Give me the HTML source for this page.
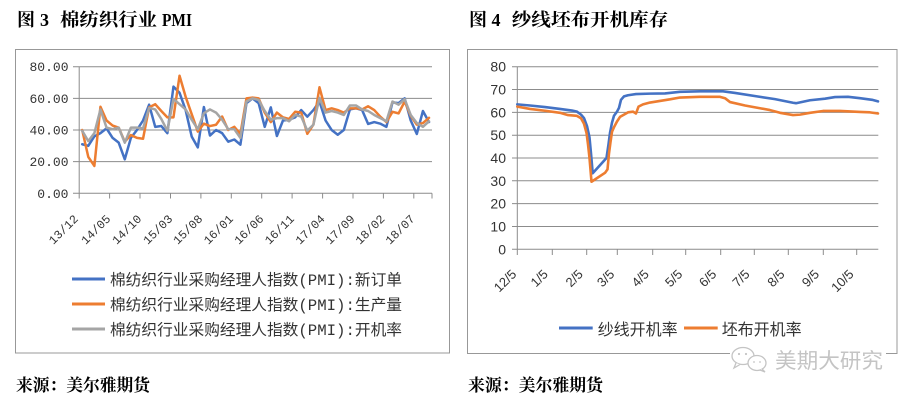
<!DOCTYPE html>
<html><head><meta charset="utf-8"><style>
html,body{margin:0;padding:0;background:#fff;}
svg{display:block;}
</style></head><body>
<svg width="913" height="400" viewBox="0 0 913 400" xmlns="http://www.w3.org/2000/svg">
<rect width="913" height="400" fill="#fff"/>
<!-- Titles -->
<g font-family="'Liberation Serif','Noto Serif CJK SC',serif" font-weight="bold" fill="#000">
<text x="17" y="26" font-size="18">图</text>
<text x="40" y="26" font-size="18">3</text>
<text x="60" y="26" font-size="18" textLength="97" lengthAdjust="spacingAndGlyphs">棉纺织行业</text>
<text x="162" y="26" font-size="18" textLength="30" lengthAdjust="spacingAndGlyphs">PMI</text>
<text x="469" y="26" font-size="18">图</text>
<text x="491.5" y="26" font-size="18">4</text>
<text x="511.7" y="26" font-size="18" textLength="156.6" lengthAdjust="spacingAndGlyphs">纱线坯布开机库存</text>
<text x="16" y="391" font-size="17" textLength="134" lengthAdjust="spacingAndGlyphs">来源：美尔雅期货</text>
<text x="468" y="391" font-size="17" textLength="135" lengthAdjust="spacingAndGlyphs">来源：美尔雅期货</text>
</g>

<!-- LEFT CHART -->
<rect x="15.5" y="49.5" width="434" height="303.5" fill="none" stroke="#989898" stroke-width="1"/>
<g stroke="#8c8c8c" stroke-width="1" fill="none">
<line x1="73" y1="66.7" x2="432" y2="66.7"/>
<line x1="73" y1="98.35" x2="432" y2="98.35"/>
<line x1="73" y1="130" x2="432" y2="130"/>
<line x1="73" y1="161.65" x2="432" y2="161.65"/>
<line x1="73" y1="193.3" x2="432" y2="193.3"/>
<line x1="79.2" y1="66.7" x2="79.2" y2="198.5"/>
<line x1="109.6" y1="193.3" x2="109.6" y2="198.5"/>
<line x1="140" y1="193.3" x2="140" y2="198.5"/>
<line x1="170.5" y1="193.3" x2="170.5" y2="198.5"/>
<line x1="200.9" y1="193.3" x2="200.9" y2="198.5"/>
<line x1="231.3" y1="193.3" x2="231.3" y2="198.5"/>
<line x1="261.7" y1="193.3" x2="261.7" y2="198.5"/>
<line x1="292.1" y1="193.3" x2="292.1" y2="198.5"/>
<line x1="322.6" y1="193.3" x2="322.6" y2="198.5"/>
<line x1="353" y1="193.3" x2="353" y2="198.5"/>
<line x1="383.4" y1="193.3" x2="383.4" y2="198.5"/>
<line x1="413.8" y1="193.3" x2="413.8" y2="198.5"/>
<line x1="432" y1="193.3" x2="432" y2="198.5"/>
</g>
<g font-family="'Liberation Mono',monospace" font-size="13" fill="#333" text-anchor="end">
<text x="68.5" y="71.2">80.00</text>
<text x="68.5" y="102.85">60.00</text>
<text x="68.5" y="134.5">40.00</text>
<text x="68.5" y="166.15">20.00</text>
<text x="68.5" y="197.8">0.00</text>
</g>
<g font-family="'Liberation Mono',monospace" font-size="12" fill="#333" text-anchor="end">
<text transform="translate(78.8,219.5) rotate(-45)">13/12</text>
<text transform="translate(111.2,219.5) rotate(-45)">14/05</text>
<text transform="translate(142.2,219.5) rotate(-45)">14/10</text>
<text transform="translate(173.2,219.5) rotate(-45)">15/03</text>
<text transform="translate(203.2,219.5) rotate(-45)">15/08</text>
<text transform="translate(233.8,219.5) rotate(-45)">16/01</text>
<text transform="translate(264.3,219.5) rotate(-45)">16/06</text>
<text transform="translate(294.8,219.5) rotate(-45)">16/11</text>
<text transform="translate(325.5,219.5) rotate(-45)">17/04</text>
<text transform="translate(355.5,219.5) rotate(-45)">17/09</text>
<text transform="translate(385.5,219.5) rotate(-45)">18/02</text>
<text transform="translate(415.5,219.5) rotate(-45)">18/07</text>
</g>
<g transform="translate(82.2,193.3) scale(6.084,-1.5825)" fill="none" stroke-width="2.5" stroke-linejoin="round" stroke-linecap="round">
<polyline vector-effect="non-scaling-stroke" stroke="#4472C4" points="0,31 1,30 2,36 3,38 4,41 5,35 6,32 7,21.5 8,35 9,40 10,46 11,56 12,42 13,42.5 14,38 15,67.4 16,63.5 17,52.6 18,35.8 19,29 20,54.5 21,36.5 22,40 23,38 24,32.6 25,34 26,30.7 27,57 28,60 29,57 30,42 31,54.3 32,36.2 33,46 34,46.5 35,48 36,52.6 37,48.4 38,52.6 39,58 40,46 41,40 42,37 43,40 44,53 45,53.7 46,52.6 47,43.8 48,45 49,44 50,42 51,57.5 52,57 53,60 54,46 55,37.5 56,52 57,45"/>
<polyline vector-effect="non-scaling-stroke" stroke="#ED7D31" points="0,40 1,23 2,17.3 3,54.7 4,46 5,42.8 6,41.5 7,32.6 8,36.8 9,35 10,34.5 11,54.3 12,56.3 13,52 14,48 15,48 16,74.3 17,61 18,50 19,39 20,44 21,42.5 22,43.3 23,48.5 24,40 25,42 26,37.5 27,60 28,60.5 29,60 30,51 31,45 32,51 33,48 34,47 35,51.5 36,51 37,37.6 38,43.4 39,67 40,52.6 41,53.7 42,52.6 43,51 44,53.7 45,53.7 46,53 47,55 48,52.6 49,48.4 50,45 51,51.5 52,50.5 53,58 54,49 55,43.4 56,44.4 57,47.7"/>
<polyline vector-effect="non-scaling-stroke" stroke="#A5A5A5" points="0,39.5 1,33 2,38 3,53 4,41.5 5,40.5 6,41.5 7,32 8,41.5 9,41.5 10,41 11,54 12,53 13,47 14,39.5 15,59.6 16,56.3 17,53 18,46.5 19,40.5 20,50.6 21,53 22,51 23,46.5 24,40.5 25,40.5 26,35 27,58 28,60 29,59 30,52 31,46.5 32,47.5 33,47.5 34,45.5 35,49.5 36,48.5 37,39.6 38,43.3 39,60.3 40,51 41,52 42,51 43,49.5 44,55.5 45,55.5 46,53 47,52 48,49.5 49,47.5 50,45.5 51,58 52,56 53,59.5 54,49.5 55,44.4 56,42 57,45.5"/>
</g>
<!-- left legend -->
<g stroke-width="3">
<line x1="72" y1="279" x2="105" y2="279" stroke="#4472C4"/>
<line x1="72" y1="304" x2="105" y2="304" stroke="#ED7D31"/>
<line x1="72" y1="329" x2="105" y2="329" stroke="#A5A5A5"/>
</g>
<g font-family="'Liberation Mono','Noto Sans CJK SC',sans-serif" font-size="15.5" fill="#333">
<text x="110" y="285" textLength="292" lengthAdjust="spacingAndGlyphs">棉纺织行业采购经理人指数(PMI):新订单</text>
<text x="110" y="310" textLength="292" lengthAdjust="spacingAndGlyphs">棉纺织行业采购经理人指数(PMI):生产量</text>
<text x="110" y="335" textLength="292" lengthAdjust="spacingAndGlyphs">棉纺织行业采购经理人指数(PMI):开机率</text>
</g>

<!-- RIGHT CHART -->
<rect x="467.5" y="49.5" width="429.5" height="304" fill="none" stroke="#989898" stroke-width="1"/>
<g stroke="#8c8c8c" stroke-width="1" fill="none">
<line x1="512" y1="66.7" x2="878.3" y2="66.7"/>
<line x1="512" y1="89.5" x2="878.3" y2="89.5"/>
<line x1="512" y1="112.35" x2="878.3" y2="112.35"/>
<line x1="512" y1="135.2" x2="878.3" y2="135.2"/>
<line x1="512" y1="158" x2="878.3" y2="158"/>
<line x1="512" y1="180.8" x2="878.3" y2="180.8"/>
<line x1="512" y1="203.65" x2="878.3" y2="203.65"/>
<line x1="512" y1="226.5" x2="878.3" y2="226.5"/>
<line x1="512" y1="249.3" x2="878.3" y2="249.3"/>
<line x1="517.3" y1="66.7" x2="517.3" y2="255"/>
<line x1="552.3" y1="249.3" x2="552.3" y2="255"/>
<line x1="586.7" y1="249.3" x2="586.7" y2="255"/>
<line x1="617.3" y1="249.3" x2="617.3" y2="255"/>
<line x1="652.7" y1="249.3" x2="652.7" y2="255"/>
<line x1="685.7" y1="249.3" x2="685.7" y2="255"/>
<line x1="720.7" y1="249.3" x2="720.7" y2="255"/>
<line x1="754.3" y1="249.3" x2="754.3" y2="255"/>
<line x1="788.3" y1="249.3" x2="788.3" y2="255"/>
<line x1="823.3" y1="249.3" x2="823.3" y2="255"/>
<line x1="856.7" y1="249.3" x2="856.7" y2="255"/>
</g>
<g font-family="'Liberation Sans',sans-serif" font-size="14" fill="#333" text-anchor="end">
<text x="506" y="71.7">80</text>
<text x="506" y="94.5">70</text>
<text x="506" y="117.35">60</text>
<text x="506" y="140.2">50</text>
<text x="506" y="163">40</text>
<text x="506" y="185.8">30</text>
<text x="506" y="208.65">20</text>
<text x="506" y="231.5">10</text>
<text x="506" y="254.3">0</text>
</g>
<g font-family="'Liberation Sans',sans-serif" font-size="13" fill="#333" text-anchor="end">
<text transform="translate(517.2,275) rotate(-45)">12/5</text>
<text transform="translate(548.8,275) rotate(-45)">1/5</text>
<text transform="translate(583.8,275) rotate(-45)">2/5</text>
<text transform="translate(615.2,275) rotate(-45)">3/5</text>
<text transform="translate(649.8,275) rotate(-45)">4/5</text>
<text transform="translate(683.2,275) rotate(-45)">5/5</text>
<text transform="translate(717.2,275) rotate(-45)">6/5</text>
<text transform="translate(750.5,275) rotate(-45)">7/5</text>
<text transform="translate(785.5,275) rotate(-45)">8/5</text>
<text transform="translate(820,275) rotate(-45)">9/5</text>
<text transform="translate(854.5,275) rotate(-45)">10/5</text>
</g>
<g transform="translate(0,249.3) scale(1,-2.2825)" fill="none" stroke-width="2.6" stroke-linejoin="round" stroke-linecap="round">
<polyline vector-effect="non-scaling-stroke" stroke="#4472C4" points="517.3,63.5 530,63 545,62.3 560,61.5 572,60.8 577,60.3 581,59 584,57.5 587,54 589.5,49 591,42 592.7,33.3 606.5,40 608.5,46 610,51 612,55.5 614,58.5 617,60.3 619,62 621,65.5 624,67 628,67.5 636,68 650,68.2 665,68.3 672,68.6 680,69 700,69.2 723,69.2 735,68.5 757,67 775,65.8 793,64.2 796,64 810,65.3 825,66 835,66.7 848,66.8 860,66.2 872,65.5 878,64.8"/>
<polyline vector-effect="non-scaling-stroke" stroke="#ED7D31" points="517.3,62.5 530,61.5 545,60.7 560,59.8 568,58.8 576.7,58.5 581,57.4 584,55 586.5,51 588,46 589.5,40 591.5,29.6 605,33.5 607.5,35 609,42 610.5,47 612,51.5 614,53.5 617,56 620,58 624,59 628,60 633,60.3 636,59.5 638.5,62.5 643,63.5 650,64.3 660,65 670,65.7 680,66.5 700,66.8 720,66.8 725,66.2 730,64.5 745,63 760,61.8 770,61 780,59.8 793,58.8 800,59 810,59.8 823,60.6 840,60.6 860,60.2 870,60 878,59.5"/>
</g>
<!-- right legend -->
<line x1="559" y1="328" x2="592.7" y2="328" stroke="#4472C4" stroke-width="3"/>
<line x1="684" y1="328" x2="717.7" y2="328" stroke="#ED7D31" stroke-width="3"/>
<g font-family="'Liberation Sans','Noto Sans CJK SC',sans-serif" font-size="16" fill="#333">
<text x="597.7" y="335" textLength="80" lengthAdjust="spacingAndGlyphs">纱线开机率</text>
<text x="721.7" y="335" textLength="80" lengthAdjust="spacingAndGlyphs">坯布开机率</text>
</g>

<!-- watermark -->
<rect x="730" y="344" width="156" height="30" fill="#fff"/>
<g fill="#fff" stroke="#c4c4c4" stroke-width="1.3">
<ellipse cx="743" cy="356" rx="11" ry="8.5"/>
<path d="M736 363 L734 368 L740 364.5" />
<ellipse cx="757" cy="363" rx="9" ry="7.5"/>
<path d="M762 369 L765 372 L760 370" />
</g>
<g fill="#c4c4c4">
<circle cx="739" cy="354" r="1.1"/><circle cx="746" cy="354" r="1.1"/>
<circle cx="754" cy="362" r="0.9"/><circle cx="760" cy="362" r="0.9"/>
</g>
<text x="775" y="368" font-family="'Liberation Sans','Noto Sans CJK SC',sans-serif" font-size="21" fill="#c4c4c4" textLength="108" lengthAdjust="spacingAndGlyphs">美期大研究</text>
</svg>
</body></html>
